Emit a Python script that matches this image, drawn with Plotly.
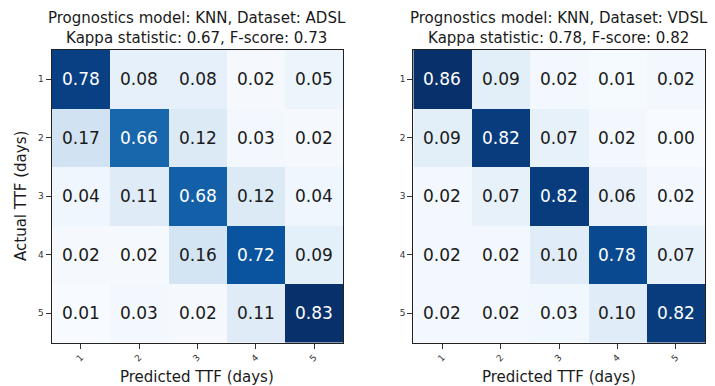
import plotly.graph_objects as go
import plotly.colors as pc

classes = [1, 2, 3, 4, 5]
class_labels = ["1", "2", "3", "4", "5"]

adsl_values = [
    [0.78, 0.08, 0.08, 0.02, 0.05],
    [0.17, 0.66, 0.12, 0.03, 0.02],
    [0.04, 0.11, 0.68, 0.12, 0.04],
    [0.02, 0.02, 0.16, 0.72, 0.09],
    [0.01, 0.03, 0.02, 0.11, 0.83],
]
vdsl_values = [
    [0.86, 0.09, 0.02, 0.01, 0.02],
    [0.09, 0.82, 0.07, 0.02, 0.00],
    [0.02, 0.07, 0.82, 0.06, 0.02],
    [0.02, 0.02, 0.10, 0.78, 0.07],
    [0.02, 0.02, 0.03, 0.10, 0.82],
]
titles = [
    "Prognostics model: KNN, Dataset: ADSL<br>Kappa statistic: 0.67, F-score: 0.73",
    "Prognostics model: KNN, Dataset: VDSL<br>Kappa statistic: 0.78, F-score: 0.82",
]
x_title = "Predicted TTF (days)"
y_title = "Actual TTF (days)"

W, H = 715, 386
FONT = "DejaVu Sans"
blues = pc.sequential.Blues
cscale = [[i / (len(blues) - 1), c] for i, c in enumerate(blues)]

# pixel geometry
panels = [(51.7, 343.3), (413.3, 705.0)]
top_px, bot_px = 50.0, 342.5

fig = go.Figure()
annotations = []
for k, (vals, (x0, x1)) in enumerate(zip([adsl_values, vdsl_values], panels)):
    xa = "x" if k == 0 else "x2"
    ya = "y" if k == 0 else "y2"
    flat = [v for r in vals for v in r]
    vmin, vmax = min(flat), max(flat)
    fig.add_trace(go.Heatmap(
        z=vals, x=classes, y=classes, colorscale=cscale, zmin=vmin, zmax=vmax,
        showscale=False, xaxis=xa, yaxis=ya, hoverinfo="skip",
    ))
    thresh = vmax / 2.0
    for i, row in enumerate(vals):
        for j, v in enumerate(row):
            annotations.append(dict(
                x=classes[j], y=classes[i], xref=xa, yref=ya, text=f"{v:.2f}",
                showarrow=False,
                font=dict(family=FONT, size=17, color="white" if v > thresh else "#1a1a1a"),
            ))
    dom = [x0 / W, x1 / W]
    axis_common = dict(showline=True, linecolor="#222", linewidth=1.2, mirror=True,
                       ticks="outside", ticklen=5, tickwidth=1, tickcolor="#333",
                       tickvals=classes, ticktext=class_labels,
                       tickfont=dict(family=FONT, size=9, color="#333"),
                       showgrid=False, zeroline=False, fixedrange=True, automargin=False)
    fig.update_layout(**{
        ("xaxis" if k == 0 else "xaxis2"): dict(domain=dom, anchor=ya, tickangle=-45,
                                                 range=[0.5, 5.5], **axis_common),
        ("yaxis" if k == 0 else "yaxis2"): dict(domain=[1 - bot_px / H, 1 - top_px / H], anchor=xa,
                                                 range=[5.5, 0.5], **axis_common),
    })
    cx = (x0 + x1) / 2 / W
    annotations.append(dict(x=cx, y=1 - 49.5 / H, xref="paper", yref="paper", text=titles[k],
                            showarrow=False, xanchor="center", yanchor="bottom",
                            font=dict(family=FONT, size=15, color="#1a1a1a")))
    annotations.append(dict(x=cx, y=1 - 377 / H, xref="paper", yref="paper", text=x_title,
                            showarrow=False, xanchor="center", yanchor="middle",
                            font=dict(family=FONT, size=15, color="#1a1a1a")))

annotations.append(dict(x=21 / W, y=1 - 196 / H, xref="paper", yref="paper", text=y_title,
                        showarrow=False, textangle=-90, xanchor="center", yanchor="middle",
                        font=dict(family=FONT, size=15, color="#1a1a1a")))

fig.update_layout(width=W, height=H, margin=dict(l=0, r=0, t=0, b=0, autoexpand=False),
                  paper_bgcolor="white", plot_bgcolor="white",
                  annotations=annotations, font=dict(family=FONT))
fig.write_html("out.html", config={"displayModeBar": False},
               post_script="document.body.style.margin='0';")
